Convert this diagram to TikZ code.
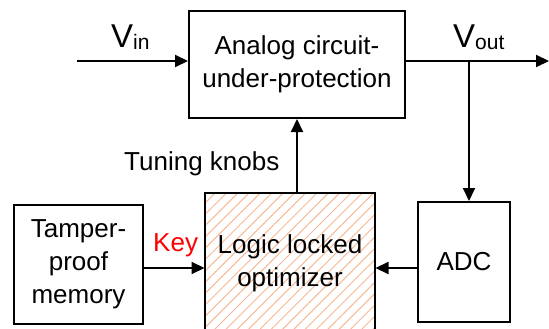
\documentclass[tikz,border=0pt]{standalone}
\usepackage{fontspec}
\setmainfont{Liberation Sans}
\usetikzlibrary{arrows.meta,patterns.meta}
\definecolor{hatch}{RGB}{245,185,150}
\tikzset{
  blk/.style={draw=black, line width=2pt, align=center, inner sep=0pt,
    font=\fontsize{26}{33}\selectfont},
  arr/.style={line width=2pt, -{Triangle[length=13pt,width=12pt]}},
  lbl/.style={inner sep=0pt, anchor=base west, font=\fontsize{26}{33}\selectfont}
}
\newcommand{\bigV}[1]{{\fontsize{33}{33}\selectfont V}\raisebox{-2pt}{\fontsize{21}{21}\selectfont #1}}
\begin{document}
\begin{tikzpicture}[x=1pt,y=-1pt]
\useasboundingbox (0,0) rectangle (549,329);
\node[blk, minimum width=216pt, minimum height=107pt] (analog) at (297,64.5)
  {Analog circuit-\\under-protection};
\node[blk, minimum width=170pt, minimum height=140pt,
  pattern={Lines[angle=45,distance=8pt,line width=1pt]}, pattern color=hatch] (logic) at (290,263) {};
\node[blk, minimum width=170pt, minimum height=140pt, draw=none] (logictext) at (290,263)
  {Logic locked\\optimizer};
\node[blk, minimum width=129pt, minimum height=119pt] (tamper) at (78.5,264.5)
  {Tamper-\\proof\\memory};
\node[blk, minimum width=92pt, minimum height=120pt] (adc) at (464,262) {ADC};
\coordinate (vin) at (77,61);
\coordinate (vout) at (549,61);
\coordinate (tap) at (469,61);
\coordinate (tk) at (297,0);
\coordinate (ky) at (0,268);
\draw[arr] (vin) -- (vin -| analog.west);
\draw[arr] (vout -| analog.east) -- (vout);
\draw[arr] (tap) -- (tap |- adc.north);
\draw[arr] (tk |- logic.north) -- (tk |- analog.south);
\draw[arr] (ky -| tamper.east) -- (ky -| logic.west);
\draw[arr] (ky -| adc.west) -- (ky -| logic.east);
\node[lbl] (vinl) at (111,48) {\bigV{in}};
\node[lbl] (voutl) at (453,48) {\bigV{out}};
\node[lbl] (tunel) at (124,170) {Tuning knobs};
\node[lbl, text=red] (keyl) at (153,251) {Key};
\end{tikzpicture}
\end{document}
